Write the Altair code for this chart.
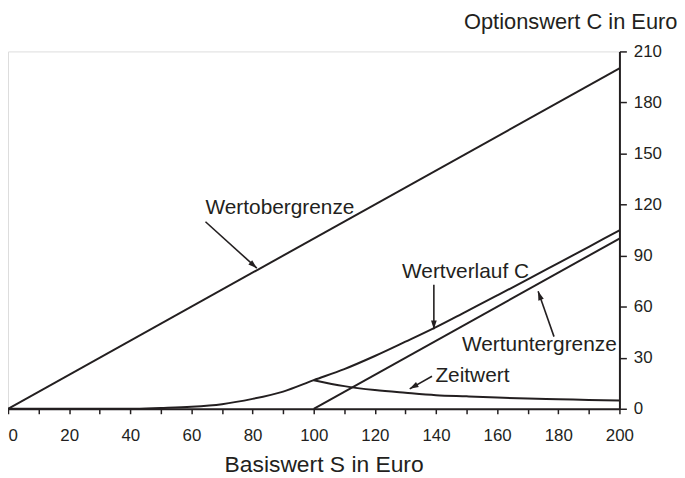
import math
import altair as alt
import pandas as pd

# ---- data ----
S_curve = [0, 10, 20, 30, 40, 50, 60, 70, 80, 90, 100, 110, 120, 130, 140, 150, 160, 170, 180, 190, 200]
C_curve = [0, 0, 0, 0, 0, 0.5, 1.2, 2.7, 5.8, 10.1, 16.8, 23.3, 31.0, 39.4, 48.0, 57.3, 66.6, 76.0, 85.6, 95.2, 104.8]
S_zeit = [100, 110, 120, 130, 140, 150, 160, 170, 180, 190, 200]
Zeitwert = [16.8, 13.3, 11.0, 9.4, 8.0, 7.3, 6.6, 6.0, 5.6, 5.2, 4.8]
S_upper = [0, 200]
Upper = [0, 200]
S_lower = [100, 200]
Lower = [0, 100]

labels = ["Wertobergrenze", "Wertverlauf C", "Wertuntergrenze", "Zeitwert"]
label_x = [64.6, 128.9, 148.5, 139.8]
label_y = [114.7, 76.8, 34.0, 15.6]
tail_x = [64.6, 139.3, 178.6, 138.7]
tail_y = [109.9, 72.9, 42.4, 19.1]
head_x = [81.4, 139.3, 173.4, 131.4]
head_y = [82.6, 46.7, 69.0, 11.7]

x_ticks = list(range(0, 201, 10))
y_ticks = list(range(0, 211, 30))

INK = "#231f20"
FONT = "Liberation Sans"
W, H = 616, 360
XMAX, YMAX = 200, 210

# ---- tables ----
rows = []
for s, c in zip(S_curve, C_curve):
    rows.append({"S": s, "C": c, "serie": "Wertverlauf C"})
for s, c in zip(S_zeit, Zeitwert):
    rows.append({"S": s, "C": c, "serie": "Zeitwert"})
for s, c in zip(S_upper, Upper):
    rows.append({"S": s, "C": c, "serie": "Wertobergrenze"})
for s, c in zip(S_lower, Lower):
    rows.append({"S": s, "C": c, "serie": "Wertuntergrenze"})
lines_df = pd.DataFrame(rows)

lab_df = pd.DataFrame({"S": label_x, "C": label_y, "text": labels})

angles = []
for tx, ty, hx, hy in zip(tail_x, tail_y, head_x, head_y):
    dx = (hx - tx) * W / XMAX
    dy = -(hy - ty) * H / YMAX
    angles.append(math.degrees(math.atan2(dx, -dy)) % 360)
arr_df = pd.DataFrame({"S": tail_x, "C": tail_y, "S2": head_x, "C2": head_y, "angle": angles})

xscale = alt.Scale(domain=[0, XMAX], nice=False, zero=True)
yscale = alt.Scale(domain=[0, YMAX], nice=False, zero=True)

xaxis = alt.Axis(
    values=x_ticks,
    labelExpr="datum.value % 20 == 0 ? datum.label : ''",
    labelAlign={"condition": {"test": "datum.value == 0", "value": "left"}, "value": "center"},
    tickSize=5, tickWidth=1.5, tickColor=INK,
    domainColor=INK, domainWidth=2,
    labelFontSize=17, labelFont=FONT, labelColor=INK, labelPadding=14,
    labelFlush=False, grid=False,
    title="Basiswert S in Euro", titleFont=FONT, titleFontSize=23,
    titleFontWeight="normal", titleColor=INK,
    titleBaseline="alphabetic", titleAlign="center", titleX=318, titleY=63,
)
yaxis = alt.Axis(
    orient="right", values=y_ticks,
    tickSize=7, tickWidth=1.5, tickColor=INK,
    domainColor=INK, domainWidth=2,
    labelFontSize=17, labelFont=FONT, labelColor=INK, labelPadding=7,
    labelFlush=False, grid=False,
    title="Optionswert C in Euro", titleFont=FONT, titleFontSize=22,
    titleFontWeight="normal", titleColor=INK, titleAngle=0,
    titleAlign="right", titleBaseline="alphabetic", titleX=58, titleY=-23,
)

X = alt.X("S:Q", scale=xscale, axis=xaxis)
Y = alt.Y("C:Q", scale=yscale, axis=yaxis)

lines = alt.Chart(lines_df).mark_line(
    color=INK, strokeWidth=2, interpolate="monotone"
).encode(x=X, y=Y, detail="serie:N", order="S:Q")

texts = alt.Chart(lab_df).mark_text(
    align="left", baseline="alphabetic", fontSize=21, font=FONT, color=INK
).encode(x=X, y=Y, text="text:N")

shafts = alt.Chart(arr_df).mark_rule(color=INK, strokeWidth=1.6).encode(
    x=X, y=Y, x2="S2:Q", y2="C2:Q"
)

heads = alt.Chart(arr_df).mark_point(
    shape="M0,0L-0.55,1.7L0.55,1.7Z", filled=True, color=INK, opacity=1, size=110
).encode(
    x=alt.X("S2:Q", scale=xscale, axis=xaxis),
    y=alt.Y("C2:Q", scale=yscale, axis=yaxis),
    angle=alt.Angle("angle:Q", scale=None),
)

chart = alt.layer(lines, shafts, heads, texts).properties(
    width=W, height=H,
    autosize=alt.AutoSizeParams(type="none"),
    padding={"left": 0, "top": 42, "right": 58, "bottom": 68},
).configure_view(stroke=INK, strokeWidth=2).configure(background="white")

chart.save("out.html", embed_options={"renderer": "svg", "actions": False})
